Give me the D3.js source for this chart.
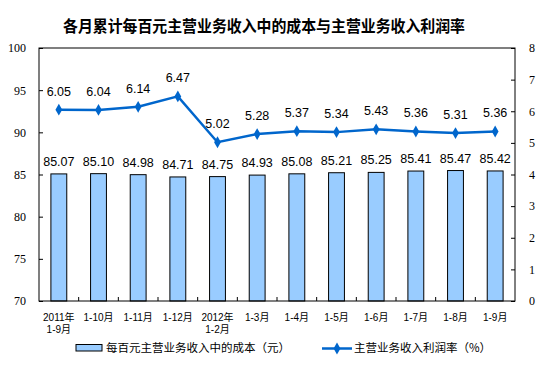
<!DOCTYPE html>
<html>
<head>
<meta charset="utf-8">
<script src="https://cdn.jsdelivr.net/npm/d3@7/dist/d3.min.js"></script>
<style>
  body { margin: 0; background: #fff; }
  svg { display: block; }
</style>
</head>
<body>
<div class="chart"></div>
<script>
// monthly cumulative data
const categories = ["2011年|1-9月", "1-10月", "1-11月", "1-12月", "2012年|1-2月",
    "1-3月", "1-4月", "1-5月", "1-6月", "1-7月", "1-8月", "1-9月"];
const costPerHundred = [85.07, 85.10, 84.98, 84.71, 84.75, 84.93, 85.08, 85.21, 85.25, 85.41, 85.47, 85.42];
const profitRate = [6.05, 6.04, 6.14, 6.47, 5.02, 5.28, 5.37, 5.34, 5.43, 5.36, 5.31, 5.36];
const leftTicks = [70, 75, 80, 85, 90, 95, 100];
const rightTicks = [0, 1, 2, 3, 4, 5, 6, 7, 8];

const title = "各月累计每百元主营业务收入中的成本与主营业务收入利润率";
const barLegend = "每百元主营业务收入中的成本（元）";
const lineLegend = "主营业务收入利润率（%）";

const width = 554, height = 371;
const plot = {left: 39, right: 515, top: 48, bottom: 301};
const barColor = "#99ccff";
const lineColor = "#0066cc";
const sans = "'Liberation Sans', Arial, 'Noto Sans CJK SC', sans-serif";
const serif = "'Liberation Serif', 'Times New Roman', serif";

const svg = d3.select(".chart").append("svg")
    .attr("width", width)
    .attr("height", height);

const x = d3.scaleBand()
    .domain(categories)
    .range([plot.left, plot.right])
    .paddingInner(0.6)
    .paddingOuter(0.3);

const yLeft = d3.scaleLinear().domain([70, 100]).range([plot.bottom, plot.top]);
const yRight = d3.scaleLinear().domain([0, 8]).range([plot.bottom, plot.top]);

// title
svg.append("text")
    .attr("x", 264)
    .attr("y", 32)
    .attr("text-anchor", "middle")
    .attr("textLength", 402)
    .attr("lengthAdjust", "spacingAndGlyphs")
    .style("font-family", "'Noto Sans CJK SC', sans-serif")
    .style("font-weight", "bold")
    .style("font-size", "16px")
    .text(title);

// bars
svg.append("g").selectAll("rect")
    .data(costPerHundred)
    .enter().append("rect")
    .attr("x", (d, i) => x(categories[i]))
    .attr("y", d => yLeft(d))
    .attr("width", x.bandwidth())
    .attr("height", d => plot.bottom - yLeft(d))
    .style("fill", barColor)
    .style("stroke", "#000")
    .style("stroke-width", 1);

// bar labels
svg.append("g").selectAll("text")
    .data(costPerHundred)
    .enter().append("text")
    .attr("x", (d, i) => x(categories[i]) + x.bandwidth() / 2)
    .attr("y", d => yLeft(d) - 8)
    .attr("text-anchor", "middle")
    .style("font-family", sans)
    .style("font-size", "12.5px")
    .text(d => d.toFixed(2));

// line
const cx = (d, i) => x(categories[i]) + x.bandwidth() / 2;
const line = d3.line()
    .x(cx)
    .y(d => yRight(d));

svg.append("path")
    .datum(profitRate)
    .attr("d", line)
    .style("fill", "none")
    .style("stroke", lineColor)
    .style("stroke-width", 2.5);

const diamond = d3.symbol().type(d3.symbolDiamond).size(40);
svg.append("g").selectAll("path")
    .data(profitRate)
    .enter().append("path")
    .attr("d", diamond)
    .attr("transform", (d, i) => "translate(" + cx(d, i) + "," + yRight(d) + ")")
    .style("fill", lineColor);

svg.append("g").selectAll("text")
    .data(profitRate)
    .enter().append("text")
    .attr("x", cx)
    .attr("y", d => yRight(d) - 14)
    .attr("text-anchor", "middle")
    .style("font-family", sans)
    .style("font-size", "12.5px")
    .text(d => d.toFixed(2));

// plot frame
svg.append("rect")
    .attr("x", plot.left)
    .attr("y", plot.top)
    .attr("width", plot.right - plot.left)
    .attr("height", plot.bottom - plot.top)
    .style("fill", "none")
    .style("stroke", "#000")
    .style("stroke-width", 1);

// left axis
const leftAxis = svg.append("g")
    .attr("transform", "translate(" + plot.left + ",0)")
    .call(d3.axisLeft(yLeft).tickValues(leftTicks).tickSize(-4).tickPadding(13));
leftAxis.select(".domain").remove();

// right axis
const rightAxis = svg.append("g")
    .attr("transform", "translate(" + plot.right + ",0)")
    .call(d3.axisRight(yRight).tickValues(rightTicks).tickSize(-4).tickPadding(14));
rightAxis.select(".domain").remove();

[leftAxis, rightAxis].forEach(a => {
    a.selectAll("text")
        .style("font-family", serif)
        .style("font-size", "12px")
        .style("fill", "#000");
    a.selectAll("line").style("stroke", "#000");
});

// category ticks between bars
const step = x.step();
svg.append("g").selectAll("line")
    .data(categories.slice(1))
    .enter().append("line")
    .attr("x1", d => x(d) - step * 0.3)
    .attr("x2", d => x(d) - step * 0.3)
    .attr("y1", plot.bottom)
    .attr("y2", plot.bottom - 4)
    .style("stroke", "#000");

// category labels
const catLabels = svg.append("g").selectAll("text")
    .data(categories)
    .enter().append("text")
    .attr("x", d => x(d) + x.bandwidth() / 2)
    .attr("y", 321)
    .attr("text-anchor", "middle")
    .style("font-family", sans)
    .style("font-size", "10px");

catLabels.each(function (d) {
    const parts = d.split("|");
    const t = d3.select(this);
    parts.forEach((p, k) => {
        t.append("tspan")
            .attr("x", t.attr("x"))
            .attr("dy", k === 0 ? 0 : 12)
            .text(p);
    });
});

// legend
const legend = svg.append("g");
legend.append("rect")
    .attr("x", 76)
    .attr("y", 344.5)
    .attr("width", 26)
    .attr("height", 6.5)
    .style("fill", barColor)
    .style("stroke", "#000");
legend.append("text")
    .attr("x", 106)
    .attr("y", 352)
    .style("font-family", "'Noto Sans CJK SC', sans-serif")
    .style("font-size", "11.5px")
    .text(barLegend);

legend.append("line")
    .attr("x1", 322)
    .attr("x2", 352)
    .attr("y1", 348.5)
    .attr("y2", 348.5)
    .style("stroke", lineColor)
    .style("stroke-width", 2.5);
legend.append("path")
    .attr("d", diamond)
    .attr("transform", "translate(337,348.5)")
    .style("fill", lineColor);
legend.append("text")
    .attr("x", 354)
    .attr("y", 352)
    .style("font-family", "'Noto Sans CJK SC', sans-serif")
    .style("font-size", "11.5px")
    .text(lineLegend);
</script>
</body>
</html>
